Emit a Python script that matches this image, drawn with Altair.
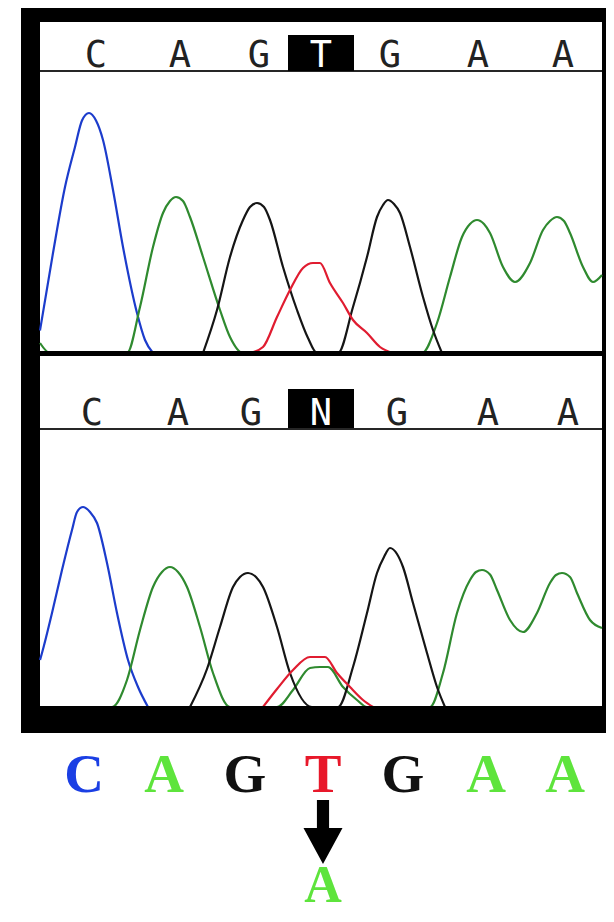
import altair as alt
import pandas as pd

# ---------------- data ----------------
# base calls shown above each chromatogram (position in scan units)
top_calls = ["C", "A", "G", "T", "G", "A", "A"]
top_pos = [56, 140, 219, 281, 350, 438, 523]
top_hl = [0, 0, 0, 1, 0, 0, 0]

bot_calls = ["C", "A", "G", "N", "G", "A", "A"]
bot_pos = [52, 138, 211, 281, 357, 448, 528]
bot_hl = [0, 0, 0, 1, 0, 0, 0]

# sequence written below the figure
seq_calls = ["C", "A", "G", "T", "G", "A", "A"]
seq_pos = [44, 124, 205, 283, 363, 446, 525]
mut_call = ["A"]
mut_pos = [283]

# top chromatogram (reference) traces: scan position / intensity
top_C_x = [0, 13, 25, 35, 42, 49, 56, 63, 73, 83, 97, 105, 113]
top_C_y = [90, 400, 664, 824, 930, 960, 930, 852, 652, 424, 160, 52, 0]
top_A_x = [0, 10, 87, 100, 113, 123, 130, 136, 143, 150, 163, 180, 190, 203,
           382, 397, 410, 422, 430, 437, 444, 450, 463, 475, 490, 503, 510, 517, 524, 530, 543, 553, 562]
top_A_y = [40, 0, 0, 184, 424, 560, 608, 624, 608, 544, 384, 172, 64, 0,
           0, 120, 304, 464, 516, 532, 516, 480, 344, 284, 360, 492, 528, 544, 528, 480, 344, 284, 312]
top_G_x = [163, 177, 190, 203, 210, 217, 224, 230, 243, 257, 268, 277,
           298, 313, 327, 337, 343, 348, 354, 360, 370, 383, 393, 402]
top_G_y = [0, 172, 384, 532, 584, 600, 584, 532, 344, 172, 60, 0,
           0, 184, 384, 544, 592, 612, 596, 560, 424, 224, 92, 0]
top_T_x = [210, 223, 237, 250, 263, 273, 280, 290, 303, 313, 327, 340, 353]
top_T_y = [0, 24, 144, 252, 340, 360, 360, 280, 200, 132, 80, 24, 0]

# bottom chromatogram (patient) traces
bot_C_x = [0, 2, 12, 22, 32, 37, 43, 50, 57, 67, 77, 88, 98, 108]
bot_C_y = [188, 216, 376, 548, 708, 780, 800, 780, 736, 576, 376, 188, 80, 0]
bot_A_x = [0, 72, 87, 100, 113, 122, 130, 138, 147, 160, 173, 190,
           237, 253, 270, 280, 288, 303, 317, 327,
           390, 403, 417, 430, 436, 442, 450, 457, 470, 483, 497, 510, 516, 522, 530, 537, 550, 562]
bot_A_y = [0, 0, 108, 308, 480, 540, 560, 540, 480, 320, 136, 0,
           0, 68, 156, 160, 160, 80, 28, 0,
           0, 136, 376, 508, 540, 548, 530, 468, 348, 300, 376, 496, 528, 536, 520, 456, 348, 316]
bot_G_x = [150, 167, 180, 193, 200, 208, 216, 223, 237, 250, 272,
           298, 313, 327, 337, 344, 350, 357, 363, 373, 387, 397, 405]
bot_G_y = [0, 152, 320, 480, 520, 536, 520, 480, 320, 136, 0,
           0, 160, 376, 536, 600, 636, 612, 560, 416, 216, 80, 0]
bot_T_x = [223, 237, 253, 270, 285, 297, 310, 323, 333]
bot_T_y = [0, 72, 148, 200, 200, 136, 80, 28, 0]

# ---------------- tables ----------------
def trace(base, xs, ys):
    return pd.DataFrame({"scan": xs, "signal": ys, "base": base})

top_df = pd.concat([trace("C", top_C_x, top_C_y), trace("A", top_A_x, top_A_y),
                    trace("G", top_G_x, top_G_y), trace("T", top_T_x, top_T_y)],
                   ignore_index=True)
bot_df = pd.concat([trace("C", bot_C_x, bot_C_y), trace("A", bot_A_x, bot_A_y),
                    trace("G", bot_G_x, bot_G_y), trace("T", bot_T_x, bot_T_y)],
                   ignore_index=True)
top_lab = pd.DataFrame({"pos": top_pos, "base": top_calls, "hl": top_hl})
bot_lab = pd.DataFrame({"pos": bot_pos, "base": bot_calls, "hl": bot_hl})
seq_df = pd.DataFrame({"pos": seq_pos, "base": seq_calls})
mut_df = pd.DataFrame({"pos": mut_pos, "base": mut_call})
one = pd.DataFrame({"a": [0]})

# ---------------- scales / styles ----------------
xs = alt.Scale(domain=[0, 562], range=[32, 594])
trace_colors = alt.Scale(domain=["C", "A", "G", "T"],
                         range=["#1c3ccc", "#2f8a2f", "#151515", "#e01c30"])
seq_colors = alt.Scale(domain=["C", "A", "G", "T"],
                       range=["#1b3fe4", "#5ee43c", "#111111", "#e8182a"])


def box(x0, x1, y0, y1, color):
    return alt.Chart(one).mark_rect(color=color).encode(
        x=alt.value(x0), x2=alt.value(x1), y=alt.value(y0), y2=alt.value(y1))


frame = box(13, 598, 0, 725, "black")
white_top = box(32, 594, 14, 343, "white")
white_bot = box(32, 594, 348, 700, "white")
line_top = box(32, 594, 62, 64, "#262626")
line_bot = box(32, 594, 420, 422, "#262626")
strip_top = box(32, 594, 343, 348, "black")
strip_bot = box(32, 594, 698, 725, "black")


def call_row(df, base_y, box_y0, box_y1):
    hl = alt.Chart(df).transform_filter(alt.datum.hl == 1).transform_calculate(
        x0="datum.pos - 33", x1="datum.pos + 33"
    ).mark_rect(color="black").encode(
        x=alt.X("x0:Q", scale=xs, axis=None), x2="x1:Q",
        y=alt.value(box_y0), y2=alt.value(box_y1))
    txt = alt.Chart(df).mark_text(
        font="DejaVu Sans Mono", fontSize=37, baseline="alphabetic", align="center"
    ).encode(
        x=alt.X("pos:Q", scale=xs, axis=None),
        y=alt.value(base_y),
        text="base:N",
        color=alt.condition(alt.datum.hl == 1, alt.value("white"), alt.value("#222222")))
    return hl + txt


row_top = call_row(top_lab, 59, 27, 63)
row_bot = call_row(bot_lab, 417, 381, 420)


def traces(df, yrange):
    return alt.Chart(df).mark_line(interpolate="monotone", strokeWidth=2.2).encode(
        x=alt.X("scan:Q", scale=xs, axis=None),
        y=alt.Y("signal:Q", scale=alt.Scale(domain=[0, 1000], range=yrange), axis=None),
        color=alt.Color("base:N", scale=trace_colors, legend=None),
        detail="base:N")


tr_top = traces(top_df, [345, 95])
tr_bot = traces(bot_df, [699, 449])

seq_text = alt.Chart(seq_df).mark_text(
    font="Liberation Serif", fontWeight="bold", fontSize=55,
    baseline="alphabetic", align="center"
).encode(
    x=alt.X("pos:Q", scale=xs, axis=None),
    y=alt.value(784),
    text="base:N",
    color=alt.Color("base:N", scale=seq_colors, legend=None))

arrow_path = ("M-0.19,-1 L0.19,-1 L0.19,-0.125 L0.61,-0.125 L0,1 "
              "L-0.61,-0.125 L-0.19,-0.125 Z")
arrow = alt.Chart(mut_df).mark_point(
    shape=arrow_path, filled=True, color="black", opacity=1, size=4096, strokeWidth=0
).encode(x=alt.X("pos:Q", scale=xs, axis=None), y=alt.value(824))

mut_text = alt.Chart(mut_df).mark_text(
    font="Liberation Serif", fontWeight="bold", fontSize=52,
    baseline="alphabetic", align="center", color="#5ee43c"
).encode(
    x=alt.X("pos:Q", scale=xs, axis=None),
    y=alt.value(894),
    text="base:N")

chart = alt.layer(
    frame, white_top, white_bot, line_top, line_bot, row_top, row_bot,
    tr_top, tr_bot, strip_top, strip_bot, seq_text, arrow, mut_text
).resolve_scale(y="independent", color="independent").properties(
    width=598, height=906, padding=0, autosize="none", background="white"
).configure_view(strokeWidth=0)

chart.save("out.html", embed_options={"renderer": "svg", "actions": False})
